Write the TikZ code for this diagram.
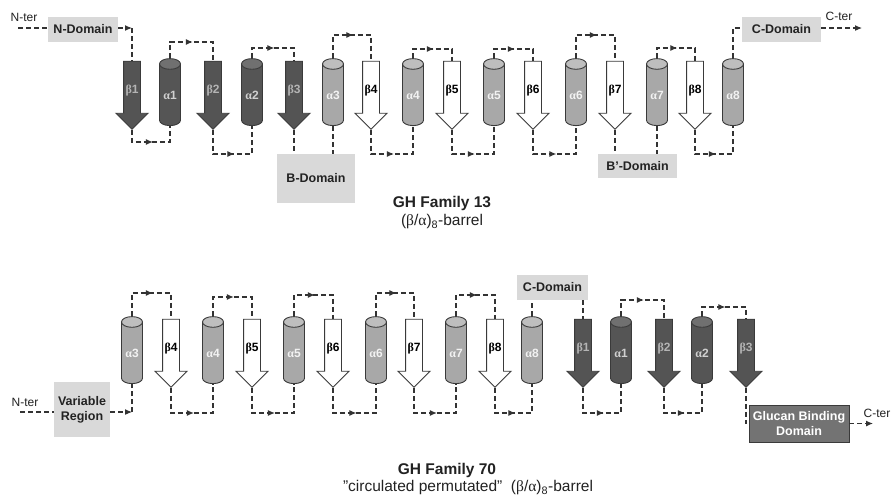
\documentclass[tikz,border=0pt]{standalone}
\usepackage{fontspec}
\setmainfont{Liberation Sans}
\newfontfamily\grk{Liberation Serif}
\usetikzlibrary{shapes.geometric,shapes.arrows,arrows.meta,decorations.markings}
\definecolor{strdark}{HTML}{545454}
\definecolor{strline}{HTML}{3A3A3A}
\definecolor{hlxdark}{HTML}{555555}
\definecolor{hlxdarkend}{HTML}{707070}
\definecolor{hlxlight}{HTML}{A8A8A8}
\definecolor{hlxlightend}{HTML}{BEBEBE}
\definecolor{lbldark}{HTML}{B4B4B4}
\definecolor{lblhlx}{HTML}{D0D0D0}
\definecolor{lbllight}{HTML}{F2F2F2}
\definecolor{boxfill}{HTML}{D9D9D9}
\definecolor{gbdfill}{HTML}{737373}
\definecolor{linecol}{HTML}{333333}
\definecolor{textpri}{HTML}{222222}
\tikzset{
  strandbase/.style={single arrow, shape border rotate=270, single arrow head extend=7.5pt,
                     minimum height=68pt, text width=13pt, align=center, inner xsep=1.5pt,
                     inner ysep=1pt, line width=0.9pt, draw=strline,
                     font=\bfseries\fontsize{12}{13}\selectfont},
  darkstrand/.style={strandbase, fill=strdark, text=lbldark},
  openstrand/.style={strandbase, fill=white, text=black},
  helixbase/.style={cylinder, shape border rotate=90, aspect=0.8, minimum width=21pt,
                    minimum height=67pt, inner sep=0pt, draw=strline, line width=0.9pt,
                    cylinder uses custom fill, font=\bfseries\fontsize{12}{13}\selectfont},
  darkhelix/.style={helixbase, cylinder body fill=hlxdark, cylinder end fill=hlxdarkend, text=lblhlx},
  lighthelix/.style={helixbase, cylinder body fill=hlxlight, cylinder end fill=hlxlightend, text=lbllight},
  domainbox/.style={fill=boxfill, inner sep=0pt, align=center, text=textpri,
                    font=\bfseries\fontsize{12.5}{15}\selectfont},
  gbdbox/.style={fill=gbdfill, draw=strline, line width=0.5pt, inner sep=0pt, align=center,
                 text=white, font=\bfseries\fontsize{12.5}{15}\selectfont},
  termtx/.style={font=\fontsize{12}{14}\selectfont, text=textpri, inner sep=0pt},
  titletx/.style={font=\bfseries\fontsize{15.5}{17}\selectfont, text=textpri},
  subtx/.style={font=\fontsize{15.5}{17}\selectfont, text=textpri},
  dashline/.style={draw=linecol, line width=1.1pt, dash pattern=on 5pt off 3pt},
  loopline/.style={dashline, postaction={decorate},
                   decoration={markings, mark=at position 0.5 with {\arrow{Latex[length=7pt,width=6pt]}}}},
  endline/.style={dashline, -{Latex[length=7pt,width=6pt]}},
}

\begin{document}
\begin{tikzpicture}[x=1pt, y=-1pt]
  \useasboundingbox[fill=white] (0,0) rectangle (893,496);

  % ================= GH family 13 =================
  % --- strands and helices ---
  \node[darkstrand]  (tb1) at (132,91)  {{\grk β}1};
  \node[darkhelix]   (ta1) at (170,95)  {{\grk α}1};
  \node[darkstrand]  (tb2) at (213,91)  {{\grk β}2};
  \node[darkhelix]   (ta2) at (252,95)  {{\grk α}2};
  \node[darkstrand]  (tb3) at (294,91)  {{\grk β}3};
  \node[lighthelix]  (ta3) at (333,95)  {{\grk α}3};
  \node[openstrand]  (tb4) at (371,91)  {{\grk β}4};
  \node[lighthelix]  (ta4) at (413,95)  {{\grk α}4};
  \node[openstrand]  (tb5) at (452,91)  {{\grk β}5};
  \node[lighthelix]  (ta5) at (494,95)  {{\grk α}5};
  \node[openstrand]  (tb6) at (533,91)  {{\grk β}6};
  \node[lighthelix]  (ta6) at (576,95)  {{\grk α}6};
  \node[openstrand]  (tb7) at (615,91)  {{\grk β}7};
  \node[lighthelix]  (ta7) at (657,95)  {{\grk α}7};
  \node[openstrand]  (tb8) at (695,91)  {{\grk β}8};
  \node[lighthelix]  (ta8) at (733,95)  {{\grk α}8};

  % --- domains and termini ---
  \node[domainbox, minimum width=70pt, minimum height=25pt] (ndomain)  at (83,29.5)   {N-Domain};
  \node[domainbox, minimum width=78pt, minimum height=49pt] (bdomain)  at (316,178.5) {B-Domain};
  \node[domainbox, minimum width=79pt, minimum height=24pt] (bpdomain) at (637.5,166) {B’-Domain};
  \node[domainbox, minimum width=79pt, minimum height=25pt] (cdomain)  at (781.5,29.5) {C-Domain};
  \node[termtx] (nter)  at (24,17) {N-ter};
  \node[termtx] (cter)  at (839,16) {C-ter};
  \coordinate (nstart) at (18,28);
  \coordinate (cend)   at (862,28);

  % --- loops ---
  \draw[dashline] (nstart) -- (ndomain.west |- nstart);
  \draw[endline]  (ndomain.east |- nstart) -- (tb1.tail |- nstart);
  \draw[dashline] (tb1.tail |- nstart) -- (tb1.tail);
  \draw[loopline] (tb1.tip) -- (tb1.tip |- 0,142) -- (ta1.south |- 0,142) -- (ta1.south);
  \draw[loopline] (ta1.north) -- (ta1.north |- 0,42) -- (tb2.tail |- 0,42) -- (tb2.tail);
  \draw[loopline] (tb2.tip) -- (tb2.tip |- 0,154) -- (ta2.south |- 0,154) -- (ta2.south);
  \draw[loopline] (ta2.north) -- (ta2.north |- 0,48) -- (tb3.tail |- 0,48) -- (tb3.tail);
  \draw[dashline] (tb3.tip) -- (tb3.tip |- bdomain.north);
  \draw[dashline] (ta3.south) -- (ta3.south |- bdomain.north);
  \draw[loopline] (ta3.north) -- (ta3.north |- 0,35) -- (tb4.tail |- 0,35) -- (tb4.tail);
  \draw[loopline] (tb4.tip) -- (tb4.tip |- 0,154) -- (ta4.south |- 0,154) -- (ta4.south);
  \draw[loopline] (ta4.north) -- (ta4.north |- 0,49) -- (tb5.tail |- 0,49) -- (tb5.tail);
  \draw[loopline] (tb5.tip) -- (tb5.tip |- 0,154) -- (ta5.south |- 0,154) -- (ta5.south);
  \draw[loopline] (ta5.north) -- (ta5.north |- 0,49) -- (tb6.tail |- 0,49) -- (tb6.tail);
  \draw[loopline] (tb6.tip) -- (tb6.tip |- 0,154) -- (ta6.south |- 0,154) -- (ta6.south);
  \draw[loopline] (ta6.north) -- (ta6.north |- 0,35) -- (tb7.tail |- 0,35) -- (tb7.tail);
  \draw[dashline] (tb7.tip) -- (tb7.tip |- bpdomain.north);
  \draw[dashline] (ta7.south) -- (ta7.south |- bpdomain.north);
  \draw[loopline] (ta7.north) -- (ta7.north |- 0,48) -- (tb8.tail |- 0,48) -- (tb8.tail);
  \draw[loopline] (tb8.tip) -- (tb8.tip |- 0,154) -- (ta8.south |- 0,154) -- (ta8.south);
  \draw[dashline] (ta8.north) |- (cdomain.west |- nstart);
  \draw[endline]  (cdomain.east |- nstart) -- (cend);

  \node[titletx] (title13) at (442,203) {GH Family 13};
  \node[subtx]   (sub13)   at (442,222) {({\grk β}/{\grk α})\textsubscript{8}-barrel};

  % ================= GH family 70 =================
  % --- strands and helices ---
  \node[lighthelix]  (pa3) at (132,353) {{\grk α}3};
  \node[openstrand]  (pb4) at (171,349) {{\grk β}4};
  \node[lighthelix]  (pa4) at (213,353) {{\grk α}4};
  \node[openstrand]  (pb5) at (252,349) {{\grk β}5};
  \node[lighthelix]  (pa5) at (294,353) {{\grk α}5};
  \node[openstrand]  (pb6) at (333,349) {{\grk β}6};
  \node[lighthelix]  (pa6) at (376,353) {{\grk α}6};
  \node[openstrand]  (pb7) at (414,349) {{\grk β}7};
  \node[lighthelix]  (pa7) at (456,353) {{\grk α}7};
  \node[openstrand]  (pb8) at (495,349) {{\grk β}8};
  \node[lighthelix]  (pa8) at (532,353) {{\grk α}8};
  \node[darkstrand]  (pb1) at (583,349) {{\grk β}1};
  \node[darkhelix]   (pa1) at (621,353) {{\grk α}1};
  \node[darkstrand]  (pb2) at (664,349) {{\grk β}2};
  \node[darkhelix]   (pa2) at (702,353) {{\grk α}2};
  \node[darkstrand]  (pb3) at (746,349) {{\grk β}3};

  % --- domains and termini ---
  \node[domainbox, minimum width=56pt, minimum height=55pt] (vregion) at (82,409.5) {Variable\\Region};
  \node[domainbox, minimum width=71pt, minimum height=25pt] (cdomainp) at (552.5,287.5) {C-Domain};
  \node[gbdbox, minimum width=100pt, minimum height=37pt] (gbdomain) at (799,423.5) {Glucan Binding\\Domain};
  \node[termtx] (nterp) at (25,402) {N-ter};
  \node[termtx] (cterp) at (877,413) {C-ter};
  \coordinate (nstartp) at (20,412);
  \coordinate (cendp)   at (873,423.5);

  % --- loops ---
  \draw[dashline] (nstartp) -- (vregion.west |- nstartp);
  \draw[endline]  (vregion.east |- nstartp) -- (pa3.south |- nstartp);
  \draw[dashline] (pa3.south |- nstartp) -- (pa3.south);
  \draw[loopline] (pa3.north) -- (pa3.north |- 0,293) -- (pb4.tail |- 0,293) -- (pb4.tail);
  \draw[loopline] (pb4.tip) -- (pb4.tip |- 0,413) -- (pa4.south |- 0,413) -- (pa4.south);
  \draw[loopline] (pa4.north) -- (pa4.north |- 0,297) -- (pb5.tail |- 0,297) -- (pb5.tail);
  \draw[loopline] (pb5.tip) -- (pb5.tip |- 0,413) -- (pa5.south |- 0,413) -- (pa5.south);
  \draw[loopline] (pa5.north) -- (pa5.north |- 0,295) -- (pb6.tail |- 0,295) -- (pb6.tail);
  \draw[loopline] (pb6.tip) -- (pb6.tip |- 0,413) -- (pa6.south |- 0,413) -- (pa6.south);
  \draw[loopline] (pa6.north) -- (pa6.north |- 0,293) -- (pb7.tail |- 0,293) -- (pb7.tail);
  \draw[loopline] (pb7.tip) -- (pb7.tip |- 0,413) -- (pa7.south |- 0,413) -- (pa7.south);
  \draw[loopline] (pa7.north) -- (pa7.north |- 0,295) -- (pb8.tail |- 0,295) -- (pb8.tail);
  \draw[loopline] (pb8.tip) -- (pb8.tip |- 0,413) -- (pa8.south |- 0,413) -- (pa8.south);
  \draw[dashline] (pa8.north) -- (pa8.north |- cdomainp.south);
  \draw[dashline] (pb1.tail |- cdomainp.south) -- (pb1.tail);
  \draw[loopline] (pb1.tip) -- (pb1.tip |- 0,413) -- (pa1.south |- 0,413) -- (pa1.south);
  \draw[loopline] (pa1.north) -- (pa1.north |- 0,300) -- (pb2.tail |- 0,300) -- (pb2.tail);
  \draw[loopline] (pb2.tip) -- (pb2.tip |- 0,413) -- (pa2.south |- 0,413) -- (pa2.south);
  \draw[loopline] (pa2.north) -- (pa2.north |- 0,307) -- (pb3.tail |- 0,307) -- (pb3.tail);
  \draw[dashline] (pb3.tip) |- (gbdomain.west);
  \draw[endline]  (gbdomain.east) -- (cendp);

  \node[titletx] (title70) at (447,470) {GH Family 70};
  \node[subtx]   (sub70)   at (468,488) {"circulated permutated"\ \ ({\grk β}/{\grk α})\textsubscript{8}-barrel};
\end{tikzpicture}
\end{document}
